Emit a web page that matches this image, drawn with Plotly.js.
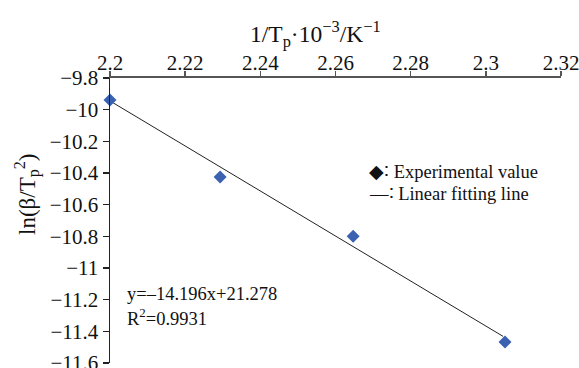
<!DOCTYPE html>
<html>
<head>
<meta charset="utf-8">
<script src="https://cdn.plot.ly/plotly-3.0.1.min.js"></script>
<style>html,body{margin:0;padding:0;background:#fff;}#chart{width:579px;height:368px;}</style>
</head>
<body>
<div id="chart"></div>
<script>
// Data
var expX = [2.2, 2.2293, 2.2647, 2.3051];
var expY = [-9.939, -10.425, -10.799, -11.467];
var fitX = [2.2, 2.3046];
var fitY = [-9.945, -11.432];
var xTickVals = [2.2, 2.22, 2.24, 2.26, 2.28, 2.3, 2.32];
var xTickText = ['2.2', '2.22', '2.24', '2.26', '2.28', '2.3', '2.32'];
var yTickVals = [-9.8, -10, -10.2, -10.4, -10.6, -10.8, -11, -11.2, -11.4, -11.6];
var yTickText = ['−9.8', '−10', '−10.2', '−10.4', '−10.6', '−10.8', '−11', '−11.2', '−11.4', '−11.6'];
var xTitle = '1/T<sub>p</sub>·10<sup>−3</sup>/K<sup>−1</sup>';
var yTitle = 'ln(β/T<sub>p</sub><sup>2</sup>)';
var legendTexts = ['◆∶ Experimental value', '—∶ Linear fitting line'];
var eqTexts = ['y=–14.196x+21.278', 'R<sup>2</sup>=0.9931'];

var L = 110, R = 18, T = 78, B = 5, W = 579, H = 368;
var pw = W - L - R, ph = H - T - B;
function px(x){ return (x - L) / pw; }
function py(y){ return (H - B - y) / ph; }
var FONT = 'Liberation Serif';

var traces = [
  {x: fitX, y: fitY, mode: 'lines', type: 'scatter',
   line: {color: '#222', width: 1}, hoverinfo: 'skip'},
  {x: expX, y: expY, mode: 'markers', type: 'scatter', cliponaxis: false,
   marker: {symbol: 'diamond', size: 10, color: '#3a62b0'}}
];

function ann(text, x, y, size, opts){
  var a = {text: text, xref: 'paper', yref: 'paper', x: px(x), y: py(y),
    xanchor: 'left', yanchor: 'middle', showarrow: false,
    font: {family: FONT, size: size, color: '#111'}};
  for (var k in opts) a[k] = opts[k];
  return a;
}

var layout = {
  width: W, height: H,
  margin: {l: L, r: R, t: T, b: B},
  paper_bgcolor: '#fff', plot_bgcolor: '#fff',
  showlegend: false,
  font: {family: FONT, size: 21, color: '#111'},
  xaxis: {side: 'top', range: [2.2, 2.32], tickmode: 'array', tickvals: xTickVals, ticktext: xTickText,
    ticklabeloverflow: 'allow', ticklabelstandoff: -7,
    showgrid: false, zeroline: false, showline: true, linecolor: '#555', linewidth: 2,
    ticks: 'outside', ticklen: 5, tickcolor: '#555', tickwidth: 1.5,
    tickfont: {family: FONT, size: 21, color: '#111'}},
  yaxis: {range: [-11.6, -9.8], tickmode: 'array', tickvals: yTickVals, ticktext: yTickText,
    ticklabeloverflow: 'allow',
    showgrid: false, zeroline: false, showline: true, linecolor: '#222', linewidth: 1.5,
    ticks: 'outside', ticklen: 6, tickcolor: '#222', tickwidth: 1.5,
    tickfont: {family: FONT, size: 21, color: '#111'}},
  annotations: [
    ann(xTitle, 315, 34, 23.5, {xanchor: 'center'}),
    ann(yTitle, 27, 195, 23, {xanchor: 'center', textangle: -90}),
    ann(legendTexts[0], 367, 172, 18.5),
    ann(legendTexts[1], 367, 194, 18.5),
    ann(eqTexts[0], 125, 294, 18.5),
    ann(eqTexts[1], 125, 317, 18.5)
  ]
};

Plotly.newPlot('chart', traces, layout, {staticPlot: true, displayModeBar: false});
</script>
</body>
</html>
